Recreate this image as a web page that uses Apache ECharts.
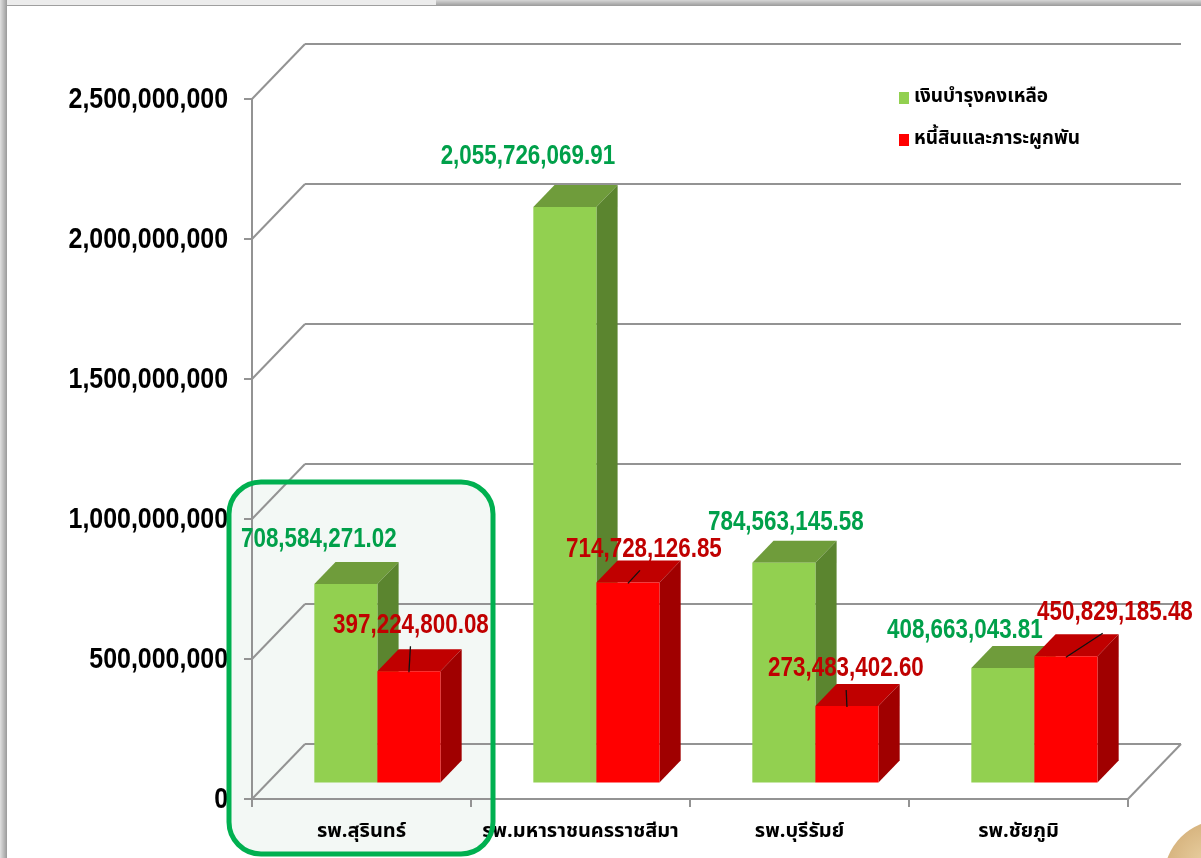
<!DOCTYPE html>
<html>
<head>
<meta charset="utf-8">
<title>เงินบำรุงคงเหลือ</title>
<script src="https://cdn.jsdelivr.net/npm/echarts@6/dist/echarts.min.js"></script>
<style>
    html, body { margin: 0; padding: 0; background: #fff; }
    #chart { width: 1201px; height: 858px; }
</style>
</head>
<body>
<div id="chart"></div>
<script>
(function () {

    // ---- data ----
    var hospitals = ['รพ.สุรินทร์', 'รพ.มหาราชนครราชสีมา', 'รพ.บุรีรัมย์', 'รพ.ชัยภูมิ'];
    var seriesNames = ['เงินบำรุงคงเหลือ', 'หนี้สินและภาระผูกพัน'];
    var balance = [708584271.02, 2055726069.91, 784563145.58, 408663043.81];
    var debt = [397224800.08, 714728126.85, 273483402.60, 450829185.48];
    var yTicks = [0, 500000000, 1000000000, 1500000000, 2000000000, 2500000000];

    // ---- look ----
    var numFont = '"Liberation Sans", "DejaVu Sans", sans-serif';
    var thaiFont = '"Noto Sans Thai", "Noto Sans", "DejaVu Sans", sans-serif';
    var lineGray = '#939393';
    var greenFaces = ['#92D050', '#6F9C3B', '#5B852F'];
    var redFaces = ['#FF0000', '#C00000', '#A00000'];
    var depth = [53, -55];        // back wall offset from the front plane
    var barFront = 0.3, barBack = 0.7, barRatio = 0.288;
    var narrow = 0.83;            // condensed look of the original number font
    // label nudges relative to the bar's front-top centre (as moved in the original)
    var greenShift = [[-27, -45], [-37, -50], [2, -40], [-38, -38]];
    var redShift = [[2, -46], [16, -33], [-1, -37], [49, -44]];

    function fmt(v) {
        return v.toLocaleString('en-US', {minimumFractionDigits: 2, maximumFractionDigits: 2});
    }

    function toPairs(arr) {
        return arr.map(function (v, i) { return [i, v]; });
    }

    function barGeom(api, ci, v, isLeft) {
        var base = api.coord([ci, 0]);
        var top = api.coord([ci, v]);
        var w = api.size([1, 0])[0] * barRatio;
        var x0 = base[0] + depth[0] * barFront + (isLeft ? -w : 0);
        return {
            x0: x0, w: w,
            yTop: top[1] + depth[1] * barFront,
            yBot: base[1] + depth[1] * barFront,
            tx: depth[0] * (barBack - barFront),
            ty: depth[1] * (barBack - barFront)
        };
    }

    function barRenderer(faces, isLeft) {
        return function (params, api) {
            var g = barGeom(api, api.value(0), api.value(1), isLeft);
            var x0 = g.x0, x1 = g.x0 + g.w;
            return {
                type: 'group',
                children: [
                    {type: 'polygon', shape: {points: [[x0, g.yTop], [x1, g.yTop], [x1 + g.tx, g.yTop + g.ty], [x0 + g.tx, g.yTop + g.ty]]},
                        style: {fill: faces[1]}},
                    {type: 'polygon', shape: {points: [[x1, g.yTop], [x1 + g.tx, g.yTop + g.ty], [x1 + g.tx, g.yBot + g.ty], [x1, g.yBot]]},
                        style: {fill: faces[2]}},
                    {type: 'rect', shape: {x: x0, y: g.yTop, width: g.w, height: g.yBot - g.yTop},
                        style: {fill: faces[0]}}
                ]
            };
        };
    }

    function labelRenderer(shifts, color, isLeft, leader) {
        return function (params, api) {
            var v = api.value(1);
            var g = barGeom(api, api.value(0), v, isLeft);
            var cx = g.x0 + g.w / 2;
            var s = shifts[params.dataIndex];
            var lx = cx + s[0], ly = g.yTop + s[1];
            var children = [];
            if (leader) {
                children.push({type: 'line',
                    shape: {x1: lx + (cx - lx) * 0.25, y1: ly + 21, x2: cx, y2: g.yTop + 1},
                    style: {stroke: '#111', lineWidth: 1.3}});
            }
            children.push({type: 'text', x: lx, y: ly, scaleX: narrow,
                style: {text: fmt(v), fill: color, font: 'bold 27px ' + numFont,
                    align: 'center', verticalAlign: 'middle'}});
            return {type: 'group', children: children};
        };
    }

    // side wall diagonals, right floor edge and the value labels of the front axis
    function wallRenderer(params, api) {
        var cs = params.coordSys;
        var v = api.value(1);
        var y = api.coord([0, v])[1];
        var lineStyle = {stroke: lineGray, lineWidth: 2};
        var children = [
            {type: 'line', shape: {x1: cs.x, y1: y, x2: cs.x + depth[0], y2: y + depth[1]}, style: lineStyle},
            {type: 'text', x: cs.x - 24, y: y + 1, scaleX: 0.86,
                style: {text: v.toLocaleString('en-US'), fill: '#000', font: 'bold 29px ' + numFont,
                    align: 'right', verticalAlign: 'middle'}}
        ];
        if (v === 0) {
            var xr = cs.x + cs.width;
            children.push({type: 'line', shape: {x1: xr, y1: y, x2: xr + depth[0], y2: y + depth[1]}, style: lineStyle});
        }
        return {type: 'group', children: children};
    }

    var chart = echarts.init(document.getElementById('chart'));

    var option = {
        backgroundColor: '#ffffff',
        animation: false,
        legend: {
            orient: 'vertical',
            left: 899,
            top: 86,
            padding: 0,
            itemWidth: 10,
            itemHeight: 12,
            itemGap: 18,
            icon: 'rect',
            data: seriesNames,
            textStyle: {fontSize: 19, fontWeight: 'bold', color: '#000', fontFamily: thaiFont, lineHeight: 24}
        },
        grid: [
            {left: 252, right: 73, top: 99, bottom: 59},
            {left: 305, right: 20, top: 44, bottom: 114}
        ],
        xAxis: [
            {
                type: 'category', gridIndex: 0, data: hospitals,
                axisLine: {lineStyle: {color: lineGray, width: 2}},
                axisTick: {show: true, length: 8, lineStyle: {color: lineGray, width: 2}},
                axisLabel: {color: '#000', fontSize: 20, fontWeight: 'bold', fontFamily: thaiFont, margin: 24, interval: 0}
            },
            {type: 'value', gridIndex: 1, min: 0, max: 1, show: false}
        ],
        yAxis: [
            {
                type: 'value', gridIndex: 0, min: 0, max: 2500000000, interval: 500000000,
                axisLine: {show: true, lineStyle: {color: lineGray, width: 2}},
                axisTick: {show: true, length: 8, lineStyle: {color: lineGray, width: 2}},
                splitLine: {show: false},
                axisLabel: {show: false}
            },
            {
                type: 'value', gridIndex: 1, min: 0, max: 2500000000, interval: 500000000,
                axisLine: {show: false}, axisTick: {show: false}, axisLabel: {show: false},
                splitLine: {show: true, lineStyle: {color: lineGray, width: 2}}
            }
        ],
        series: [
            {
                name: 'wall', type: 'custom', xAxisIndex: 0, yAxisIndex: 0, silent: true, z: 1,
                renderItem: wallRenderer,
                data: yTicks.map(function (v) { return [0, v]; })
            },
            {
                name: seriesNames[0], type: 'custom', xAxisIndex: 0, yAxisIndex: 0, z: 2,
                itemStyle: {color: greenFaces[0]},
                renderItem: barRenderer(greenFaces, true),
                encode: {x: 0, y: 1},
                data: toPairs(balance)
            },
            {
                name: seriesNames[1], type: 'custom', xAxisIndex: 0, yAxisIndex: 0, z: 2,
                itemStyle: {color: redFaces[0]},
                renderItem: barRenderer(redFaces, false),
                encode: {x: 0, y: 1},
                data: toPairs(debt)
            },
            {
                name: 'balanceLabels', type: 'custom', xAxisIndex: 0, yAxisIndex: 0, z: 3, silent: true,
                renderItem: labelRenderer(greenShift, '#00A04A', true, false),
                encode: {x: 0, y: 1},
                data: toPairs(balance)
            },
            {
                name: 'debtLabels', type: 'custom', xAxisIndex: 0, yAxisIndex: 0, z: 3, silent: true,
                renderItem: labelRenderer(redShift, '#C00000', false, true),
                encode: {x: 0, y: 1},
                data: toPairs(debt)
            }
        ],
        graphic: [
            // frame shadow of the slide
            {type: 'rect', left: 0, top: 0, z: 50, shape: {width: 1201, height: 6},
                style: {fill: new echarts.graphic.LinearGradient(0, 0, 0, 1, [{offset: 0, color: '#d6d6d6'}, {offset: 1, color: '#9a9a9a'}])}},
            {type: 'rect', left: 0, top: 0, z: 50, shape: {width: 436, height: 5}, style: {fill: '#ececec'}},
            {type: 'rect', left: 0, top: 0, z: 51, shape: {width: 7, height: 858},
                style: {fill: new echarts.graphic.LinearGradient(0, 0, 1, 0, [{offset: 0, color: '#e0e0e0'}, {offset: 1, color: '#9a9a9a'}])}},
            // highlight box
            {type: 'rect', z: -10, shape: {x: 229, y: 482, width: 264, height: 372, r: 32},
                style: {fill: '#F3F8F5', stroke: null}},
            {type: 'rect', z: 100, silent: true, shape: {x: 229, y: 482, width: 264, height: 372, r: 32},
                style: {fill: 'transparent', stroke: '#00B050', lineWidth: 5}},
            // picture corner at the bottom right
            {type: 'circle', z: 60, shape: {cx: 1222, cy: 878, r: 58},
                style: {fill: new echarts.graphic.RadialGradient(0.4, 0.4, 0.7, [{offset: 0, color: '#EBD3A6'}, {offset: 1, color: '#C69A5E'}])}}
        ]
    };

    chart.setOption(option);

})();
</script>
</body>
</html>
